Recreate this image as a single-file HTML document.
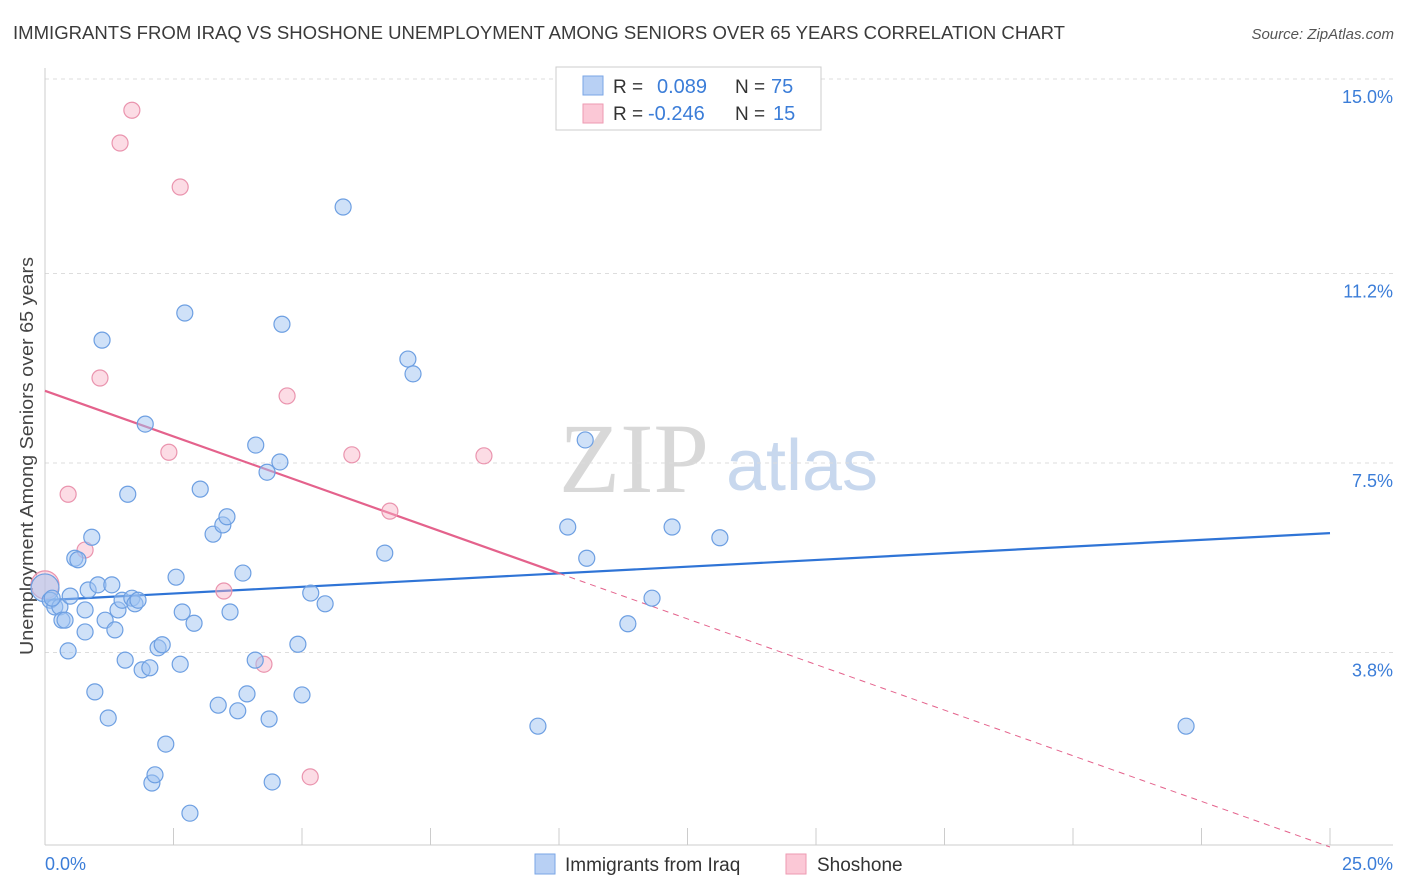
<!DOCTYPE html>
<html><head><meta charset="utf-8"><style>
body{margin:0;background:#fff;font-family:"Liberation Sans",sans-serif;}
</style></head><body>
<svg id="chart" width="1406" height="892" xmlns="http://www.w3.org/2000/svg" style="display:block">
<text x="13" y="39" font-size="18" fill="#3a3a3a" textLength="1052" lengthAdjust="spacingAndGlyphs">IMMIGRANTS FROM IRAQ VS SHOSHONE UNEMPLOYMENT AMONG SENIORS OVER 65 YEARS CORRELATION CHART</text>
<text x="1394" y="39" font-size="15" fill="#555" text-anchor="end" font-style="italic">Source: ZipAtlas.com</text>
<text transform="translate(33,456) rotate(-90)" font-size="18" fill="#444" text-anchor="middle" textLength="398" lengthAdjust="spacingAndGlyphs">Unemployment Among Seniors over 65 years</text>
<g>
<text x="634" y="492" font-size="100" fill="#d8d8d8" font-family="Liberation Serif,serif" text-anchor="middle">ZIP</text>
<text x="802" y="490" font-size="72" fill="#c8d8ee" text-anchor="middle">atlas</text>
</g>
<g id="grid"></g><g id="axes"></g><g id="trends"></g><g id="points"></g>
<g>
<rect x="556" y="67" width="265" height="63" fill="#fff" stroke="#ccc"/>
<rect x="583" y="76" width="20" height="19" fill="#b8d0f4" stroke="#7aa6e6"/>
<rect x="583" y="104" width="20" height="19" fill="#fbc8d6" stroke="#ee9ab2"/>
<text x="613" y="93" font-size="19" fill="#333">R = </text><text x="657" y="93" font-size="20" fill="#3b7dd8">0.089</text>
<text x="735" y="93" font-size="19" fill="#333">N = </text><text x="771" y="93" font-size="20" fill="#3b7dd8">75</text>
<text x="613" y="120" font-size="19" fill="#333">R = </text><text x="648" y="120" font-size="20" fill="#3b7dd8">-0.246</text>
<text x="735" y="120" font-size="19" fill="#333">N = </text><text x="773" y="120" font-size="20" fill="#3b7dd8">15</text>
</g>
<g>
<rect x="535" y="854" width="20" height="20" fill="#b8d0f4" stroke="#7aa6e6"/>
<text x="565" y="871" font-size="19" fill="#333">Immigrants from Iraq</text>
<rect x="786" y="854" width="20" height="20" fill="#fbc8d6" stroke="#ee9ab2"/>
<text x="817" y="871" font-size="19" fill="#333">Shoshone</text>
</g>
</svg>
<script>
const yTicks=[3.8,7.5,11.2,15.0];
const yTickLabels=["3.8%","7.5%","11.2%","15.0%"];
const xTickCount=10;
const blueX=[0,0.10,0.19,0.29,0.14,0.33,0.39,0.49,0.45,0.58,0.64,0.78,0.78,0.84,0.91,0.97,1.03,1.11,1.17,1.23,1.30,1.36,1.42,1.50,1.56,1.61,1.69,1.75,1.81,1.89,1.95,2.04,2.08,2.14,2.20,2.28,2.35,2.55,2.63,2.67,2.72,2.82,2.90,3.02,3.27,3.37,3.46,3.54,3.60,3.75,3.85,3.93,4.09,4.10,4.32,4.36,4.42,4.57,4.61,4.92,5.00,5.17,5.45,5.80,6.61,7.06,7.16,9.59,10.17,10.51,10.54,11.34,11.81,12.20,13.13,22.20];
const blueY=[5.06,4.82,4.69,4.69,4.86,4.43,4.43,4.90,3.83,5.64,5.61,4.20,4.63,5.02,6.05,3.03,5.12,9.90,4.43,2.52,5.12,4.24,4.63,4.82,3.65,6.89,4.86,4.75,4.82,3.46,8.26,3.50,1.25,1.41,3.89,3.95,2.01,5.27,3.57,4.59,10.43,0.66,4.37,6.99,6.11,2.77,6.29,6.45,4.59,2.66,5.35,2.99,3.65,7.85,7.32,2.50,1.27,7.52,10.21,3.96,2.97,4.96,4.75,12.50,5.74,9.53,9.24,2.36,6.25,7.95,5.64,4.36,4.86,6.25,6.04,2.36];
const pinkX=[0,1.69,1.46,2.63,1.07,4.71,2.41,5.97,8.54,0.45,6.71,0.78,3.48,4.26,5.16];
const pinkY=[5.12,14.39,13.75,12.89,9.16,8.81,7.71,7.66,7.64,6.89,6.56,5.80,5.00,3.57,1.37];
const blueTrend=[4.82,6.13];
const pinkTrend=[8.91,0.0];
const pinkSolidEnd=10;
const NS="http://www.w3.org/2000/svg";
const X=v=>45+v/25*1285, Y=v=>847-v/3.75*192;
function mk(t,a,p){const e=document.createElementNS(NS,t);for(const k in a)e.setAttribute(k,a[k]);p.appendChild(e);return e;}
const grid=document.getElementById('grid'),axes=document.getElementById('axes'),tr=document.getElementById('trends'),pts=document.getElementById('points');
mk('line',{x1:45,y1:79,x2:1393,y2:79,stroke:'#ddd','stroke-dasharray':'4,4'},grid);
yTicks.forEach((t,i)=>{
 const g=mk('line',{x1:45,y1:Y(t),x2:1393,y2:Y(t),stroke:'#ddd','stroke-dasharray':'4,4'},grid);
 
 
 const l=mk('text',{x:1393,y:Y(t)+24,'font-size':18,fill:'#3b7dd8','text-anchor':'end'},axes);l.textContent=yTickLabels[i];
 
 
});
mk('line',{x1:45,y1:68,x2:45,y2:845,stroke:'#ccc'},axes);
mk('line',{x1:45,y1:845,x2:1393,y2:845,stroke:'#ccc'},axes);
for(let i=0;i<=xTickCount;i++){const x=X(25*i/xTickCount);const t=mk('line',{x1:x,y1:828,x2:x,y2:845,stroke:'#ccc'},axes);
 
 }
let a=mk('text',{x:45,y:870,'font-size':18,fill:'#3b7dd8'},axes);a.textContent='0.0%';


a=mk('text',{x:1393,y:870,'font-size':18,fill:'#3b7dd8','text-anchor':'end'},axes);a.textContent='25.0%';


function dot(x,y,c,r){const e=mk('circle',{cx:X(x),cy:Y(y),r:r,fill:c==='b'?'rgba(160,195,242,0.5)':'rgba(248,178,198,0.45)',stroke:c==='b'?'#6d9fe2':'#ea94ae','stroke-width':1.2},pts);return e;}
pinkX.forEach((x,i)=>{const e=dot(x,pinkY[i],'p',i===0?14:8);
 
 });
blueX.forEach((x,i)=>{const e=dot(x,blueY[i],'b',i===0?14:8);
 
 });
let l=mk('line',{x1:X(0),y1:Y(blueTrend[0]),x2:X(25),y2:Y(blueTrend[1]),stroke:'#2f74d6','stroke-width':2.2},tr);


const py=x=>pinkTrend[0]+(pinkTrend[1]-pinkTrend[0])*x/25;
l=mk('line',{x1:X(0),y1:Y(py(0)),x2:X(pinkSolidEnd),y2:Y(py(pinkSolidEnd)),stroke:'#e4628c','stroke-width':2.2},tr);


l=mk('line',{x1:X(pinkSolidEnd),y1:Y(py(pinkSolidEnd)),x2:X(25),y2:Y(py(25)),stroke:'#e4628c','stroke-width':1,'stroke-dasharray':'6,5'},tr);


</script>
</body></html>
